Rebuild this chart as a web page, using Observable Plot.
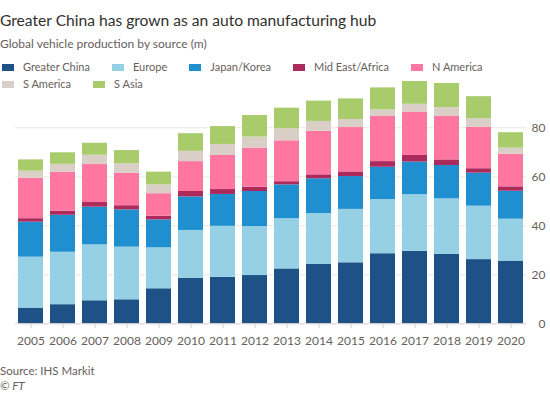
<!DOCTYPE html>
<html>
<head>
<meta charset="utf-8">
<script src="https://cdn.jsdelivr.net/npm/d3@7"></script>
<script src="https://cdn.jsdelivr.net/npm/@observablehq/plot@0.6"></script>
<style>
  html, body { margin: 0; padding: 0; background: #ffffff; }
  #wrap { position: relative; width: 550px; height: 393px; font-family: Lato, "Noto Sans", sans-serif; color: #33302e; overflow: hidden; }
  #title { position: absolute; left: 0; top: 10px; font-size: 15.6px; line-height: 20px; color: #33302e; white-space: nowrap; }
  #subtitle { position: absolute; left: 0; top: 36px; font-size: 12px; line-height: 16px; color: #66605c; white-space: nowrap; }
  #legend { position: absolute; left: 2px; top: 59px; width: 548px; display: flex; flex-wrap: wrap; column-gap: 22px; row-gap: 1px; font-size: 11px; line-height: 16px; color: #66605c; }
  .item { display: flex; align-items: center; white-space: nowrap; }
  .sw { width: 12px; height: 7px; margin-right: 9px; display: inline-block; }
  #chart { position: absolute; left: 0; top: 75px; }
  #source { position: absolute; left: 0; top: 363px; font-size: 11.5px; line-height: 16px; color: #66605c; }
  #ft { position: absolute; left: 0; top: 378px; font-size: 11.5px; line-height: 16px; color: #66605c; font-style: italic; }
</style>
</head>
<body>
<div id="wrap">
  <div id="title">Greater China has grown as an auto manufacturing hub</div>
  <div id="subtitle">Global vehicle production by source (m)</div>
  <div id="legend"></div>
  <div id="chart"></div>
  <div id="source">Source: IHS Markit</div>
  <div id="ft">© FT</div>
</div>
<script>
const years = ["2005","2006","2007","2008","2009","2010","2011","2012","2013","2014","2015","2016","2017","2018","2019","2020"];
const seriesNames = ["Greater China","Europe","Japan/Korea","Mid East/Africa","N America","S America","S Asia"];
const seriesColors = ["#1e5287","#96d0e5","#1f8fcf","#ad2a5c","#ff77a0","#d9cfc6","#a8cc6c"];

const greaterChina = [6.4, 7.8, 9.4, 9.8, 14.3, 18.6, 19.0, 19.7, 22.4, 24.2, 24.9, 28.6, 29.6, 28.3, 26.2, 25.6];
const europe       = [20.8, 21.4, 22.8, 21.5, 16.7, 19.5, 20.8, 20.0, 20.5, 20.8, 21.8, 22.1, 23.1, 22.7, 21.8, 17.1];
const japanKorea   = [14.3, 15.1, 15.4, 15.2, 11.4, 13.7, 13.0, 14.3, 13.8, 14.2, 13.4, 13.2, 13.3, 13.6, 13.5, 11.4];
const midEastAfrica= [1.4, 1.7, 1.9, 1.7, 1.5, 2.2, 2.0, 1.8, 1.3, 1.6, 1.9, 2.3, 2.7, 2.3, 1.8, 1.8];
const nAmerica     = [16.5, 15.9, 15.5, 13.3, 9.2, 12.2, 13.9, 15.9, 16.7, 17.8, 18.1, 18.4, 17.7, 17.7, 16.9, 13.3];
const sAmerica     = [2.9, 3.2, 3.8, 3.8, 3.6, 4.2, 4.5, 4.5, 4.9, 4.0, 3.3, 2.7, 3.2, 3.6, 3.5, 2.5];
const sAsia        = [4.6, 4.7, 4.9, 5.4, 5.2, 7.2, 7.3, 8.8, 8.4, 8.3, 8.4, 9.0, 9.3, 9.9, 9.0, 6.3];

const yTicks = [0, 20, 40, 60, 80];
const gridTicks = [20, 40, 60, 80];

const seriesValues = [greaterChina, europe, japanKorea, midEastAfrica, nAmerica, sAmerica, sAsia];
const data = [];
seriesNames.forEach((name, si) => {
  years.forEach((yr, i) => data.push({year: yr, source: name, value: seriesValues[si][i]}));
});

// legend
const legend = document.getElementById("legend");
seriesNames.forEach((name, i) => {
  const it = document.createElement("div");
  it.className = "item";
  const sw = document.createElement("span");
  sw.className = "sw";
  sw.style.background = seriesColors[i];
  it.appendChild(sw);
  it.appendChild(document.createTextNode(name));
  legend.appendChild(it);
});

const chart = Plot.plot({
  width: 550,
  height: 280,
  marginLeft: 15,
  marginRight: 23.5,
  marginTop: 3.3,
  marginBottom: 31.7,
  style: { fontFamily: "Lato, 'Noto Sans', sans-serif", fontSize: "12px", color: "#66605c", background: "transparent" },
  x: { domain: years, paddingInner: 0.22, paddingOuter: 0.05, label: null },
  y: { domain: [0, 100], label: null },
  color: { domain: seriesNames, range: seriesColors },
  marks: [
    Plot.gridY(gridTicks, { stroke: "#ebe6e2", strokeOpacity: 1 }),
    Plot.barY(data, Plot.stackY({ order: seriesNames }, { x: "year", y: "value", fill: "source" })),
    Plot.ruleY([0], { stroke: "#d4cec9" }),
    Plot.axisX({ tickSize: 5, tickPadding: 8, stroke: "#d4cec9", fill: "#66605c", fontSize: 12 }),
    Plot.axisY(yTicks, { anchor: "right", tickSize: 0, tickPadding: 0, textAnchor: "end", dx: 18.5, fill: "#66605c", fontSize: 12 })
  ]
});
document.getElementById("chart").appendChild(chart);
</script>
</body>
</html>
